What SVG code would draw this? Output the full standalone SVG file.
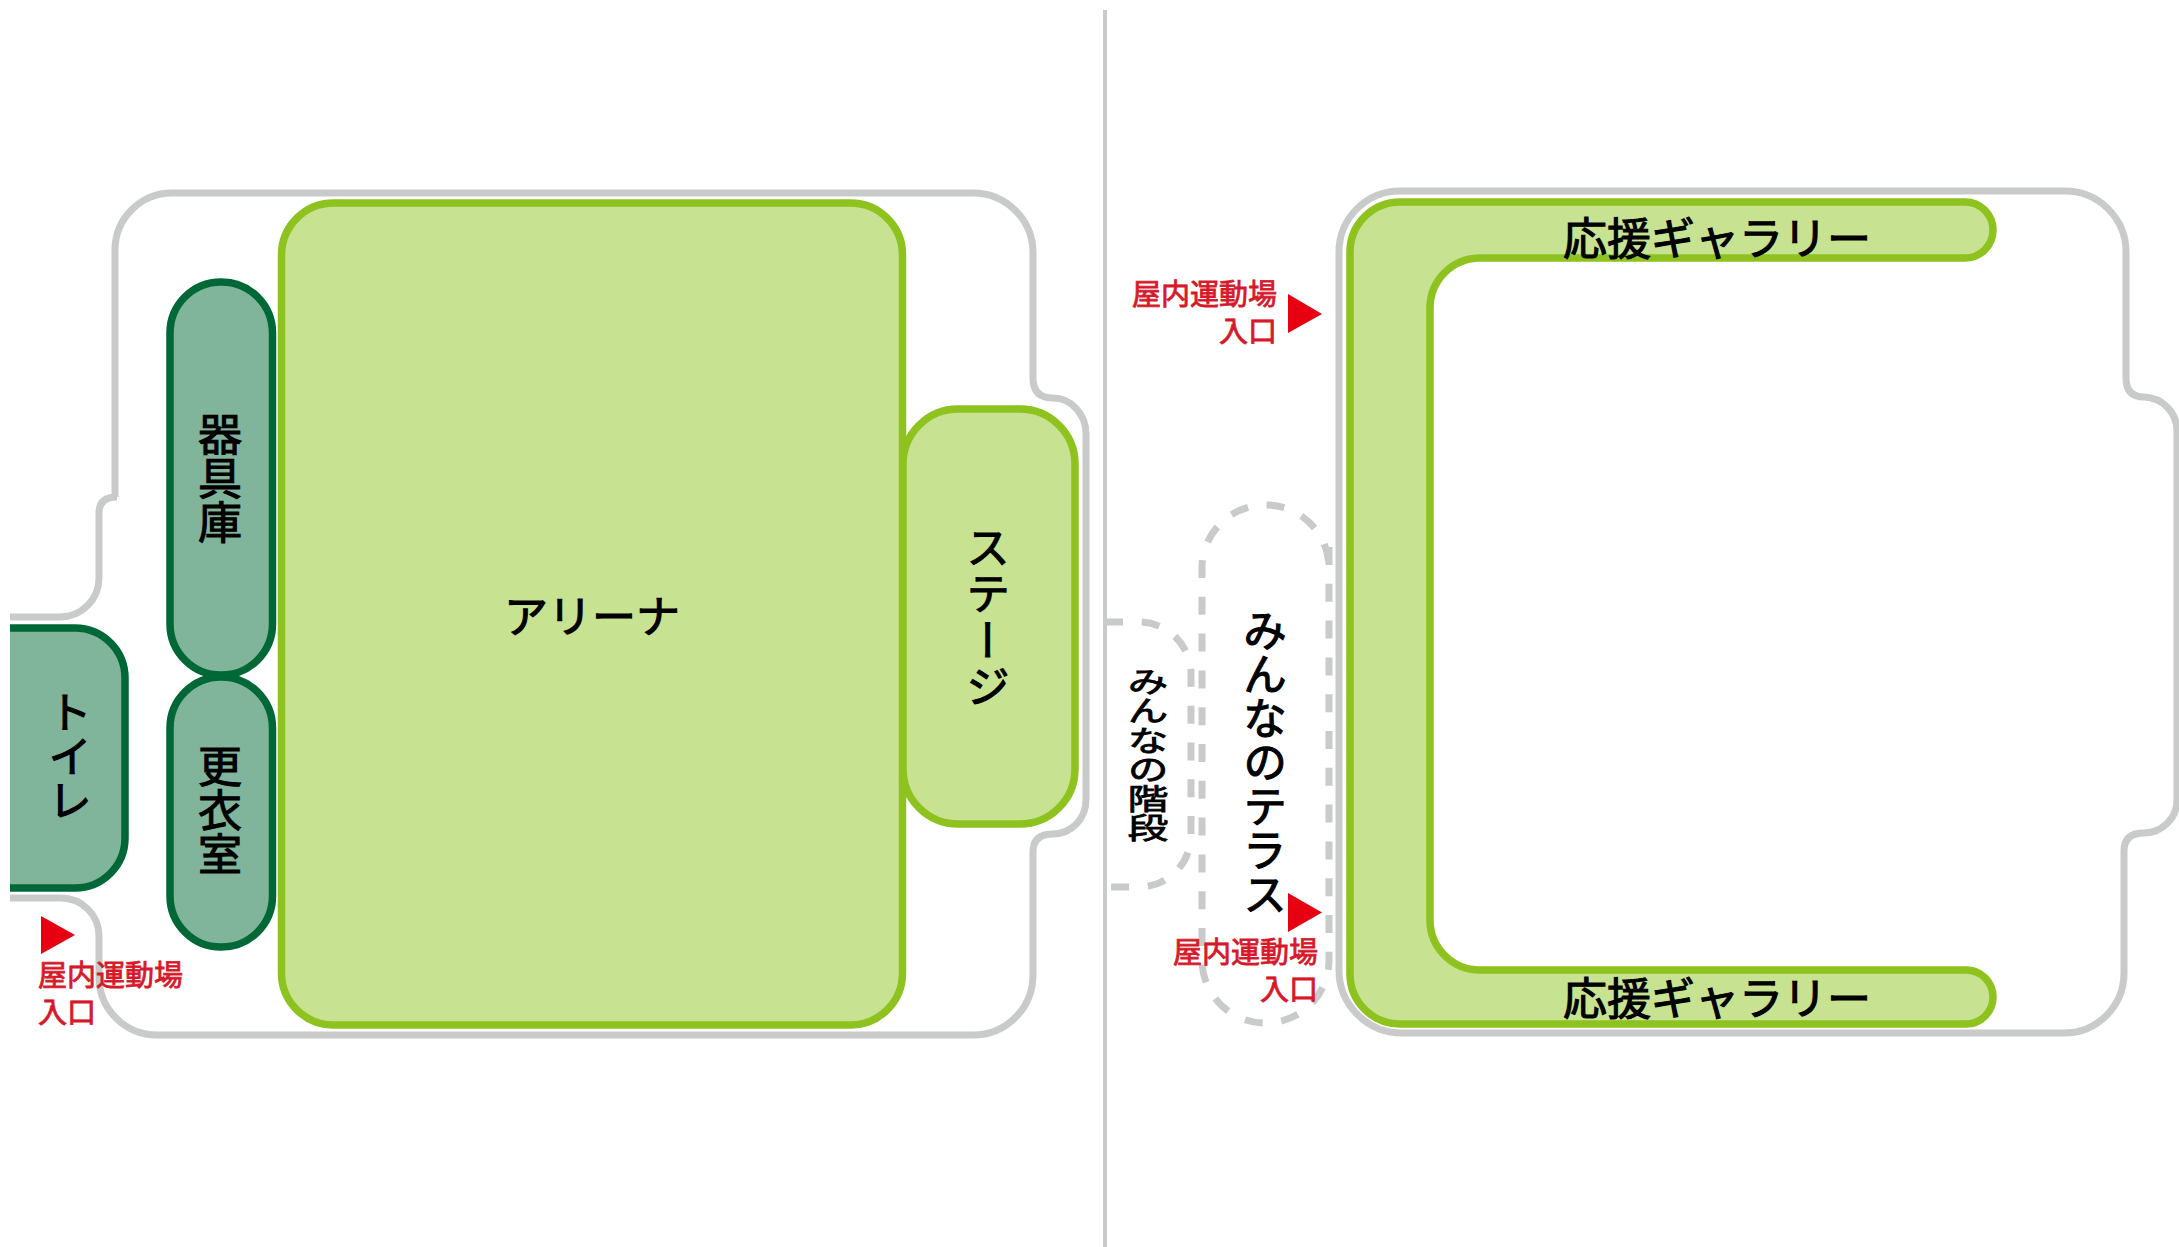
<svg xmlns="http://www.w3.org/2000/svg" width="2179" height="1247" viewBox="0 0 2179 1247">
<style>
text{font-family:"Noto Sans CJK JP","Noto Sans",sans-serif;fill:#000;stroke:#000;stroke-width:1.100px}
.lbl{font-size:44px;text-anchor:middle}
.v{writing-mode:vertical-rl;text-anchor:middle}
.h{dominant-baseline:central}
.red{font-size:29px;fill:#d7182a;stroke:#d7182a;stroke-width:.8px}
.end{text-anchor:end}
.wall{fill:none;stroke:#c9caca;stroke-width:7}
.dash{fill:none;stroke:#c9caca;stroke-width:7;stroke-dasharray:18 18.800}
.lime{fill:#c7e291;stroke:#8dc21f;stroke-width:7.500}
.deep{fill:#80b49b;stroke:#006837;stroke-width:7.500}
.tri{fill:#e60012}
</style>
<rect width="2179" height="1247" fill="#fff"/>
<g id="plan-walls">
<path class="wall" d="M10 617 H60 A39 39 0 0 0 99 578 V513 Q99 497 117 497 H115 V250 A57 57 0 0 1 172 193 H973 A60 60 0 0 1 1033 253 V378 Q1033 398 1053 398 A33 36 0 0 1 1086 434 V800 A33 34 0 0 1 1053 834 Q1033 834 1033 852 V975 A60 60 0 0 1 973 1035 H157 A58 58 0 0 1 99 977 V936 A38 38 0 0 0 61 898 H10"/>
<path class="wall" d="M1400 191 H2065 A61 61 0 0 1 2126 252 V378 Q2126 397 2144 397 A34 34 0 0 1 2177 431 V800 A33 33 0 0 1 2144 833 Q2124 833 2124 851 V973 A60 60 0 0 1 2064 1033 H1402 A63 63 0 0 1 1339 970 V252 A61 61 0 0 1 1400 191Z"/>
<line x1="1105" y1="10" x2="1105" y2="1247" stroke="#c9caca" stroke-width="4"/>
</g>
<g id="arena">
<rect class="lime" x="281.500" y="203" width="621" height="822" rx="52"/>
<text class="lbl h" x="592" y="614">アリーナ</text>
</g>
<g id="stage">
<rect class="lime" x="903" y="409" width="172" height="415" rx="55"/>
<text class="lbl v" x="988" y="618" letter-spacing="2.500">ステージ</text>
</g>
<g id="equipment">
<rect class="deep" x="170" y="282" width="102.500" height="393" rx="51"/>
<text class="lbl v" x="220" y="478">器具庫</text>
</g>
<g id="changing-room">
<rect class="deep" x="170" y="677" width="102.500" height="270" rx="51"/>
<text class="lbl v" x="220" y="810">更衣室</text>
</g>
<g id="toilet">
<path class="deep" d="M10 628 H75 A50 50 0 0 1 125 678 V838 A50 50 0 0 1 75 888 H10"/>
<text class="lbl v" x="70" y="756">トイレ</text>
</g>
<g id="terrace">
<path class="dash" d="M1329 547 V960 A63 63 0 0 1 1266 1023 H1265 A63 63 0 0 1 1202 960 V568 A63 63 0 0 1 1265 505 H1266 A63 63 0 0 1 1329 568 V547"/>
<text class="lbl v" x="1265" y="762">みんなのテラス</text>
</g>
<g id="stairs">
<path class="dash" d="M1105 622 H1139 A52 52 0 0 1 1191 674 V835 A52 52 0 0 1 1139 887 H1105"/>
<text class="v" font-size="41" text-anchor="middle" transform="translate(1148 755) scale(1 .71)">みんなの階段</text>
</g>
<g id="gallery">
<path class="lime" d="M1400 202 H1965 A28 28 0 0 1 1965 258 H1480 A50 50 0 0 0 1430 308 V920 A50 50 0 0 0 1480 970 H1966 A27 27 0 0 1 1966 1024 H1400 A50 50 0 0 1 1350 974 V252 A50 50 0 0 1 1400 202Z"/>
<text class="lbl h" x="1717" y="236">応援ギャラリー</text>
<text class="lbl h" x="1717" y="996">応援ギャラリー</text>
</g>
<g id="entrance-left">
<polygon class="tri" points="41,916 75,935 41,954"/>
<text class="red"><tspan x="38" y="986">屋内運動場</tspan><tspan x="38" y="1023">入口</tspan></text>
</g>
<g id="entrance-top">
<polygon class="tri" points="1288,294 1322,314 1288,333"/>
<text class="red end"><tspan x="1277" y="305">屋内運動場</tspan><tspan x="1277" y="342">入口</tspan></text>
</g>
<g id="entrance-terrace">
<polygon class="tri" points="1288,893 1322,912.500 1288,932"/>
<text class="red end"><tspan x="1318" y="963">屋内運動場</tspan><tspan x="1318" y="1000">入口</tspan></text>
</g>
</svg>
